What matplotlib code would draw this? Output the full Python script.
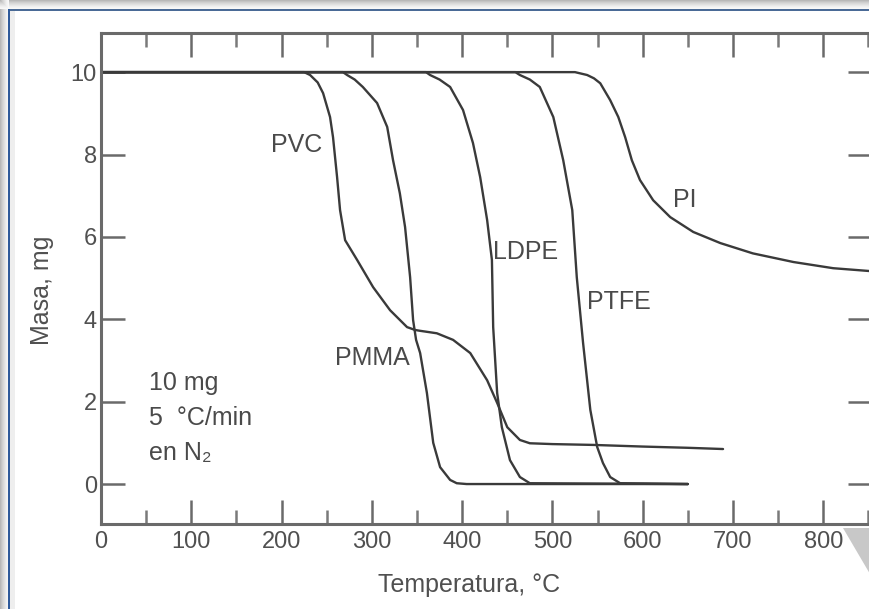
import matplotlib
matplotlib.use("Agg")
import matplotlib.pyplot as plt
from matplotlib.patches import Rectangle, Polygon
from matplotlib.ticker import MultipleLocator

plt.rcParams['font.family'] = ['Liberation Sans', 'DejaVu Sans']

# ---- data ----
pvc_T = [0, 225, 231.6, 240, 246, 253.7, 257, 261.5, 264.8, 270.4, 283.7, 301.4, 320.2, 339, 348, 353.5,
         372, 390, 409, 427.7, 438.8, 450, 464, 475, 500, 545, 600, 650, 689]
pvc_m = [10, 10, 9.93, 9.75, 9.49, 8.91, 8.42, 7.45, 6.65, 5.92, 5.44, 4.78, 4.22, 3.81, 3.74, 3.72,
         3.66, 3.5, 3.18, 2.52, 1.97, 1.38, 1.07, 0.99, 0.97, 0.95, 0.91, 0.88, 0.85]

pmma_T = [0, 268, 272.6, 281, 290, 305.8, 317, 323.5, 331, 336.8, 342.4, 345.7, 349, 353.5, 361, 368,
          375.6, 386.7, 394, 405, 650]
pmma_m = [10, 10, 9.93, 9.82, 9.64, 9.25, 8.67, 7.86, 7.06, 6.24, 5.02, 3.98, 3.5, 3.18, 2.21, 1.0,
          0.41, 0.1, 0.02, 0, 0]

ldpe_T = [0, 360, 364.5, 375, 386.7, 401, 412, 420, 427.7, 433, 434.4, 438.8, 444, 453, 464, 475, 650]
ldpe_m = [10, 10, 9.93, 9.82, 9.64, 9.08, 8.28, 7.45, 6.41, 5.44, 3.81, 2.21, 1.38, 0.58, 0.17, 0.02, 0]

ptfe_T = [0, 459, 464, 475, 486, 501, 512, 522, 527, 534, 542, 549.6, 556, 564, 575, 650]
ptfe_m = [10, 10, 9.93, 9.82, 9.64, 8.91, 7.86, 6.65, 5.02, 3.42, 1.8, 0.9, 0.51, 0.17, 0.02, 0]

pi_T = [0, 525, 538.5, 546, 553, 564, 573, 580.6, 588, 597, 611.6, 630.5, 656, 686, 722, 767, 811, 852]
pi_m = [10, 10, 9.93, 9.85, 9.73, 9.32, 8.91, 8.42, 7.86, 7.38, 6.89, 6.48, 6.12, 5.85, 5.6, 5.39, 5.24, 5.17]

x_ticks = [0, 100, 200, 300, 400, 500, 600, 700, 800]
y_ticks = [0, 2, 4, 6, 8, 10]

W, H = 870, 609
fig = plt.figure(figsize=(W / 100, H / 100), dpi=100)
fig.patch.set_facecolor('white')

# window-like frame decoration
def px_rect(x0, y0, x1, y1, **kw):
    fig.add_artist(Rectangle((x0 / W, 1 - y1 / H), (x1 - x0) / W, (y1 - y0) / H,
                             transform=fig.transFigure, **kw))

for i, c in enumerate(['#b8b8b8', '#c4c4c4', '#cfcfcf', '#d8d8d8', '#e0e0e0', '#e8e8e8', '#efefef', '#f4f4f4', '#f8f8f8']):
    px_rect(0, i, W, i + 1, color=c, lw=0)
    px_rect(i, 0, i + 1, H, color=c, lw=0)
px_rect(8, 9, W, 11, color='#4a6a96', lw=0)
px_rect(8, 9, 10, H, color='#2f5a9a', lw=0)
px_rect(10, 11, 15, H, color='#eeeeee', lw=0)
fig.add_artist(Polygon([(843 / W, 1 - 528 / H), (1, 1 - 528 / H), (1, 1 - 574 / H)],
                       transform=fig.transFigure, color='#c8c8c8', lw=0))

ax = fig.add_axes([101 / W, 1 - 524 / H, 771 / W, 491 / H])
ax.set_facecolor('none')

lc = '#3a3a3a'
for T, m in [(pi_T, pi_m), (ptfe_T, ptfe_m), (ldpe_T, ldpe_m), (pmma_T, pmma_m), (pvc_T, pvc_m)]:
    ax.plot(T, m, color=lc, lw=1.7, solid_capstyle='round', solid_joinstyle='round')

ax.set_xlim(0, 854)
ax.set_ylim(-0.97, 10.95)

ax.set_xticks(x_ticks)
ax.set_yticks(y_ticks)
ax.xaxis.set_minor_locator(MultipleLocator(50))

tc = '#505050'
for s in ax.spines.values():
    s.set_color('#6a6a6a')
    s.set_linewidth(2.2)

ax.tick_params(which='major', direction='in', length=17, width=1.8, color='#6a6a6a',
               top=True, right=True, labelsize=17, labelcolor=tc, pad=5)
ax.tick_params(axis='y', which='major', pad=3)
ax.tick_params(which='minor', direction='in', length=10, width=1.8, color='#7a7a7a',
               top=True, bottom=True)
ax.tick_params(axis='y', which='minor', left=False, right=False)

fig.text(469 / W, 1 - 585 / H, 'Temperatura, °C', ha='center', va='center', fontsize=18, color=tc)
fig.text(42 / W, 1 - 290 / H, 'Masa, mg', ha='center', va='center', rotation=90, fontsize=18, color=tc)

kw = dict(fontsize=18, color='#4a4a4a', va='center')
ax.text(245, 8.23, 'PVC', ha='right', **kw)
ax.text(342, 3.06, 'PMMA', ha='right', **kw)
ax.text(434, 5.63, 'LDPE', ha='left', **kw)
ax.text(538, 4.42, 'PTFE', ha='left', **kw)
ax.text(634, 6.9, 'PI', ha='left', **kw)

ax.text(53, 2.45, '10 mg', ha='left', **kw)
ax.text(53, 1.6, '5  °C/min', ha='left', **kw)
ax.text(53, 0.75, 'en N₂', ha='left', **kw)

fig.savefig('out.png', dpi=100)
